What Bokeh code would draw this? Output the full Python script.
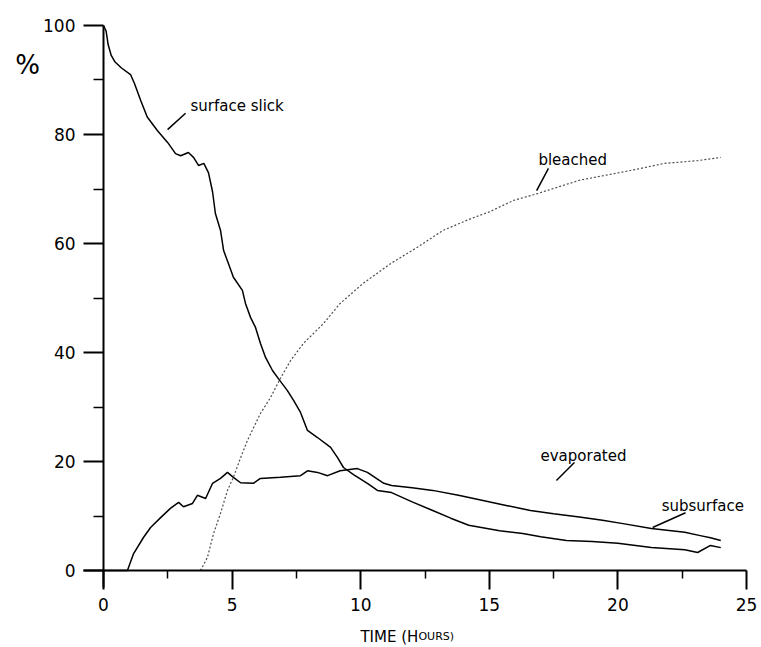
from bokeh.plotting import figure
from bokeh.models import FixedTicker, Label, Range1d
from bokeh.embed import file_html
from bokeh.resources import INLINE

# ---- data ----
slick_t = [0.0, 0.1, 0.18, 0.3, 0.45, 0.7, 1.05, 1.2, 1.45, 1.7, 2.1, 2.5, 2.8, 3.0, 3.3,
           3.5, 3.7, 3.9, 4.08, 4.24, 4.35, 4.55, 4.67, 4.86, 5.05, 5.4, 5.52, 5.72, 5.91,
           6.1, 6.3, 6.57, 6.8, 7.15, 7.39, 7.66, 7.93, 8.32, 8.83, 9.1, 9.33, 9.72, 10.26,
           10.65, 11.2, 12.0, 12.8, 13.5, 14.2, 15.4, 16.3, 17.0, 18.0, 19.0, 20.0, 21.3,
           22.6, 23.1, 23.6, 24.0]
slick_v = [100.0, 99.0, 96.5, 94.5, 93.3, 92.2, 91.0, 89.4, 86.2, 83.2, 80.7, 78.5, 76.5,
           76.1, 76.7, 75.8, 74.3, 74.7, 73.0, 69.5, 65.5, 62.4, 58.7, 56.3, 53.8, 51.4,
           49.0, 46.4, 44.6, 41.7, 39.1, 36.7, 35.2, 33.0, 31.2, 29.0, 25.7, 24.4, 22.6,
           20.7, 18.9, 17.6, 16.0, 14.7, 14.3, 12.6, 11.0, 9.6, 8.3, 7.3, 6.8, 6.2, 5.5,
           5.3, 5.0, 4.2, 3.8, 3.3, 4.6, 4.2]

sub_t = [0.0, 0.93, 1.17, 1.56, 1.83, 2.22, 2.6, 2.92, 3.11, 3.46, 3.65, 3.97, 4.24, 4.55,
         4.82, 5.05, 5.33, 5.83, 6.1, 6.88, 7.66, 7.93, 8.32, 8.71, 9.2, 9.87, 10.26, 10.9,
         11.2, 12.0, 12.8, 13.8, 14.8, 15.7, 16.6, 17.5, 18.5, 19.4, 20.2, 21.3, 22.6,
         23.2, 23.6, 24.0]
sub_v = [0.0, 0.0, 3.1, 6.1, 7.9, 9.7, 11.4, 12.5, 11.7, 12.3, 13.8, 13.2, 16.0, 16.9,
         18.0, 17.1, 16.1, 16.0, 16.9, 17.1, 17.4, 18.3, 18.0, 17.4, 18.3, 18.7, 18.0, 16.0,
         15.6, 15.2, 14.7, 13.8, 12.8, 11.9, 11.0, 10.4, 9.8, 9.2, 8.6, 7.7, 7.0, 6.4, 6.0,
         5.5]

bleach_t = [3.77, 4.04, 4.28, 4.55, 4.82, 5.05, 5.33, 5.6, 6.1, 6.49, 6.85, 7.27, 7.78,
            8.55, 9.2, 10.1, 11.16, 12.2, 13.2, 14.3, 15.0, 15.94, 16.9, 18.5, 20.5, 21.8,
            23.1, 24.0]
bleach_v = [0.0, 2.4, 6.8, 10.5, 14.7, 17.1, 20.7, 23.9, 28.8, 31.7, 35.0, 38.5, 41.7,
            45.3, 49.0, 52.7, 56.3, 59.3, 62.4, 64.6, 65.8, 67.9, 69.2, 71.6, 73.4, 74.7,
            75.2, 75.8]

x_ticks = [0, 5, 10, 15, 20, 25]
x_minor = [2.5, 7.5, 12.5, 17.5, 22.5]
y_ticks = [0, 20, 40, 60, 80, 100]
y_minor = [10, 30, 50, 70, 90]

series_labels = ["surface slick", "bleached", "evaporated", "subsurface"]

FONT = "DejaVu Sans"

p = figure(width=761, height=647, output_backend="svg", toolbar_location=None,
           x_range=Range1d(-4.005, 25.583), y_range=Range1d(-14.128, 104.587),
           min_border=0)
p.min_border_left = 0
p.min_border_right = 0
p.min_border_top = 0
p.min_border_bottom = 0
p.outline_line_color = None
p.grid.visible = False
p.background_fill_color = "white"

for ax in (p.xaxis[0], p.yaxis[0]):
    ax.fixed_location = 0
    ax.axis_line_width = 2
    ax.axis_line_color = "black"
    ax.major_tick_line_width = 2
    ax.minor_tick_line_width = 1.5
    ax.major_tick_in = 0
    ax.minor_tick_in = 0
    ax.major_label_text_font = FONT
    ax.major_label_text_font_size = "17px"
    ax.major_label_text_color = "black"
    ax.major_label_standoff = 8

p.xaxis.bounds = (-0.78, 25)
p.yaxis.bounds = (-3.1, 100)
p.xaxis.ticker = FixedTicker(ticks=x_ticks, minor_ticks=x_minor)
p.yaxis.ticker = FixedTicker(ticks=y_ticks, minor_ticks=y_minor)
p.xaxis.major_tick_out = 19
p.xaxis.minor_tick_out = 8
p.yaxis.major_tick_out = 20
p.yaxis.minor_tick_out = 10

# curves
p.line(slick_t, slick_v, line_color="black", line_width=1.5)
p.line(sub_t, sub_v, line_color="black", line_width=1.5)
p.line(bleach_t, bleach_v, line_color="#4d4d4d", line_width=1.2, line_dash="2 2")

# curve labels with leader lines
label_pos = [(3.38, 85.3), (16.91, 75.4), (16.99, 21.1), (21.7, 11.9)]
for txt, (lx, ly) in zip(series_labels, label_pos):
    p.add_layout(Label(x=lx, y=ly, text=txt, text_font=FONT, text_font_size="15px",
                       text_color="black", text_baseline="alphabetic", text_align="left"))

p.segment(x0=[3.19, 17.3, 18.31, 22.63], y0=[83.9, 73.8, 19.8, 10.6],
          x1=[2.49, 16.84, 17.61, 21.35], y1=[80.9, 69.7, 16.5, 7.9],
          line_color="black", line_width=1.5)

# "%" unit label
p.add_layout(Label(x=-2.95, y=92.8, text="%", text_font=FONT, text_font_size="26px",
                   text_color="black", text_align="center", text_baseline="middle"))

# x-axis title with small caps
p.add_layout(Label(x=9.99, y=-12.2, text="TIME (H", text_font=FONT, text_font_size="15px",
                   text_color="black", text_baseline="alphabetic", text_align="left"))
p.add_layout(Label(x=9.99, y=-12.2, x_offset=58, text="OURS)", text_font=FONT,
                   text_font_size="11px", text_color="black", text_baseline="alphabetic",
                   text_align="left"))

open("out.html", "w").write(file_html(p, INLINE))
